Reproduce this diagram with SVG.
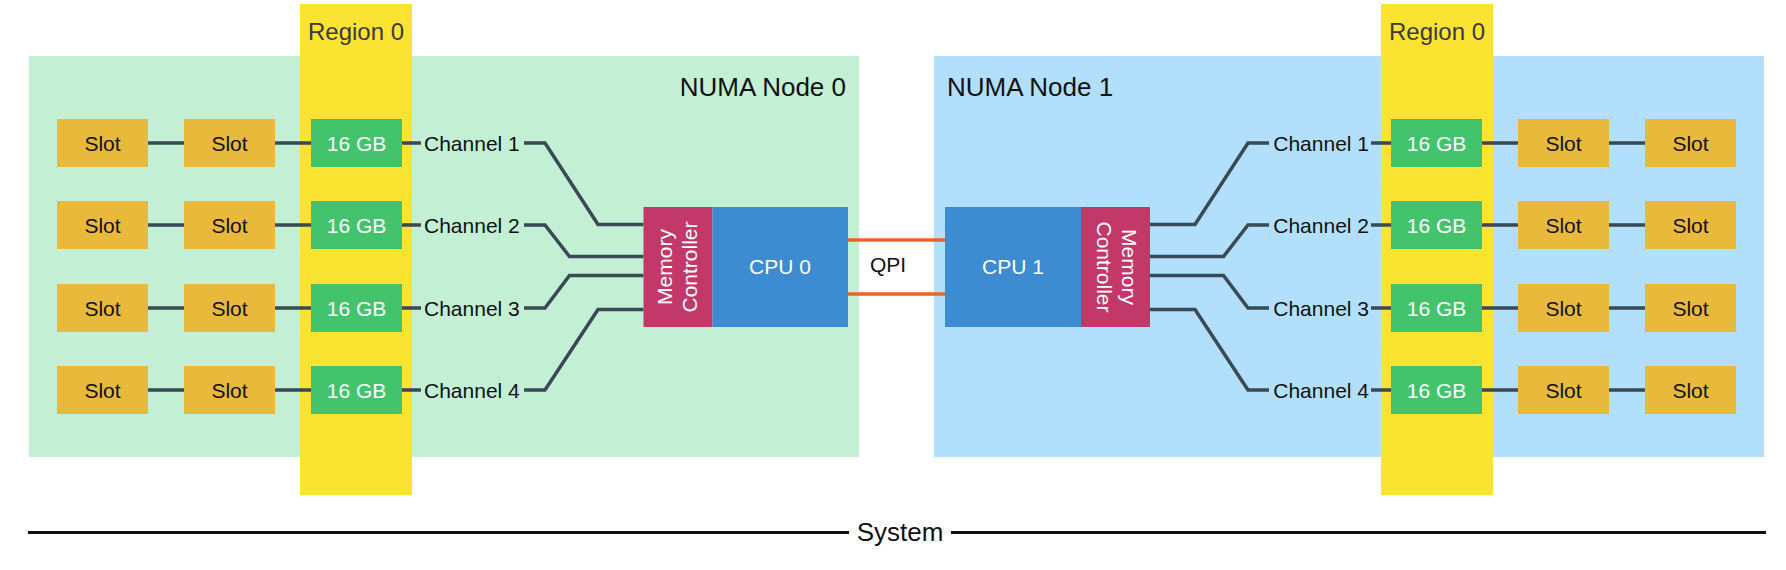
<svg xmlns="http://www.w3.org/2000/svg" width="1786" height="570" viewBox="0 0 1786 570">
<style>
.t{font-family:"Liberation Sans",Arial,Helvetica,sans-serif;font-size:21px;fill:#111}
.w{fill:#fff}
.mid{text-anchor:middle}
.end{text-anchor:end}
.slot{fill:#e8b93b}
.gb{fill:#43c46c}
.mc{fill:#c23868}
.cpu{fill:#3d8bd0}
.c{fill:none;stroke:#3a4a54;stroke-width:3.5}
.q{fill:none;stroke:#e8642c;stroke-width:3.5}
</style>
<rect width="1786" height="570" fill="#fff"/>
<g id="numa0"><rect x="29" y="56" width="830" height="401" fill="#c3efd4"/><text class="t end" x="846" y="96" style="font-size:26px">NUMA Node 0</text></g>
<g id="numa1"><rect x="934" y="56" width="830" height="401" fill="#b1dffc"/><text class="t" x="947" y="96" style="font-size:26px">NUMA Node 1</text></g>
<g id="region0-left"><rect x="300" y="4" width="112" height="491" fill="#fbe332"/><text class="t mid" x="356" y="40" style="font-size:24px;fill:#3a3a3a">Region 0</text></g>
<g id="region0-right"><rect x="1381" y="4" width="112" height="491" fill="#fbe332"/><text class="t mid" x="1437" y="40" style="font-size:24px;fill:#3a3a3a">Region 0</text></g>
<g id="connectors">
<path class="c" d="M148 143H184M275 143H311M402 143H421M148 225H184M275 225H311M402 225H421M148 308H184M275 308H311M402 308H421M148 390H184M275 390H311M402 390H421"/>
<path class="c" d="M524 143H545L598 224.5H643.5M524 225H545L569.5 256.5H643.5M524 308H545L569.5 275.5H643.5M524 390H545L598 309.5H643.5"/>
<path class="c" d="M1645 143H1609M1518 143H1482M1391 143H1371M1645 225H1609M1518 225H1482M1391 225H1371M1645 308H1609M1518 308H1482M1391 308H1371M1645 390H1609M1518 390H1482M1391 390H1371"/>
<path class="c" d="M1269 143H1248L1195 224.5H1149.5M1269 225H1248L1223.5 256.5H1149.5M1269 308H1248L1223.5 275.5H1149.5M1269 390H1248L1195 309.5H1149.5"/>
<path class="q" d="M848 240H945M848 294H945"/>
<text class="t" x="870" y="272">QPI</text>
</g>
<g id="left-slots">
<g id="l-s1-1"><rect class="slot" x="57" y="119" width="91" height="48"/><text class="t mid" x="102.5" y="150.5">Slot</text></g>
<g id="l-s2-1"><rect class="slot" x="184" y="119" width="91" height="48"/><text class="t mid" x="229.5" y="150.5">Slot</text></g>
<g id="l-gb-1"><rect class="gb" x="311" y="119" width="91" height="48"/><text class="t mid w" x="356.5" y="150.5">16 GB</text></g>
<g id="l-ch-1"><text class="t" x="424" y="150.5">Channel 1</text></g>
<g id="l-s1-2"><rect class="slot" x="57" y="201" width="91" height="48"/><text class="t mid" x="102.5" y="232.5">Slot</text></g>
<g id="l-s2-2"><rect class="slot" x="184" y="201" width="91" height="48"/><text class="t mid" x="229.5" y="232.5">Slot</text></g>
<g id="l-gb-2"><rect class="gb" x="311" y="201" width="91" height="48"/><text class="t mid w" x="356.5" y="232.5">16 GB</text></g>
<g id="l-ch-2"><text class="t" x="424" y="232.5">Channel 2</text></g>
<g id="l-s1-3"><rect class="slot" x="57" y="284" width="91" height="48"/><text class="t mid" x="102.5" y="315.5">Slot</text></g>
<g id="l-s2-3"><rect class="slot" x="184" y="284" width="91" height="48"/><text class="t mid" x="229.5" y="315.5">Slot</text></g>
<g id="l-gb-3"><rect class="gb" x="311" y="284" width="91" height="48"/><text class="t mid w" x="356.5" y="315.5">16 GB</text></g>
<g id="l-ch-3"><text class="t" x="424" y="315.5">Channel 3</text></g>
<g id="l-s1-4"><rect class="slot" x="57" y="366" width="91" height="48"/><text class="t mid" x="102.5" y="397.5">Slot</text></g>
<g id="l-s2-4"><rect class="slot" x="184" y="366" width="91" height="48"/><text class="t mid" x="229.5" y="397.5">Slot</text></g>
<g id="l-gb-4"><rect class="gb" x="311" y="366" width="91" height="48"/><text class="t mid w" x="356.5" y="397.5">16 GB</text></g>
<g id="l-ch-4"><text class="t" x="424" y="397.5">Channel 4</text></g>
</g>
<g id="right-slots">
<g id="r-s1-1"><rect class="slot" x="1645" y="119" width="91" height="48"/><text class="t mid" x="1690.5" y="150.5">Slot</text></g>
<g id="r-s2-1"><rect class="slot" x="1518" y="119" width="91" height="48"/><text class="t mid" x="1563.5" y="150.5">Slot</text></g>
<g id="r-gb-1"><rect class="gb" x="1391" y="119" width="91" height="48"/><text class="t mid w" x="1436.5" y="150.5">16 GB</text></g>
<g id="r-ch-1"><text class="t end" x="1369" y="150.5">Channel 1</text></g>
<g id="r-s1-2"><rect class="slot" x="1645" y="201" width="91" height="48"/><text class="t mid" x="1690.5" y="232.5">Slot</text></g>
<g id="r-s2-2"><rect class="slot" x="1518" y="201" width="91" height="48"/><text class="t mid" x="1563.5" y="232.5">Slot</text></g>
<g id="r-gb-2"><rect class="gb" x="1391" y="201" width="91" height="48"/><text class="t mid w" x="1436.5" y="232.5">16 GB</text></g>
<g id="r-ch-2"><text class="t end" x="1369" y="232.5">Channel 2</text></g>
<g id="r-s1-3"><rect class="slot" x="1645" y="284" width="91" height="48"/><text class="t mid" x="1690.5" y="315.5">Slot</text></g>
<g id="r-s2-3"><rect class="slot" x="1518" y="284" width="91" height="48"/><text class="t mid" x="1563.5" y="315.5">Slot</text></g>
<g id="r-gb-3"><rect class="gb" x="1391" y="284" width="91" height="48"/><text class="t mid w" x="1436.5" y="315.5">16 GB</text></g>
<g id="r-ch-3"><text class="t end" x="1369" y="315.5">Channel 3</text></g>
<g id="r-s1-4"><rect class="slot" x="1645" y="366" width="91" height="48"/><text class="t mid" x="1690.5" y="397.5">Slot</text></g>
<g id="r-s2-4"><rect class="slot" x="1518" y="366" width="91" height="48"/><text class="t mid" x="1563.5" y="397.5">Slot</text></g>
<g id="r-gb-4"><rect class="gb" x="1391" y="366" width="91" height="48"/><text class="t mid w" x="1436.5" y="397.5">16 GB</text></g>
<g id="r-ch-4"><text class="t end" x="1369" y="397.5">Channel 4</text></g>
</g>
<g id="memctrl0"><rect class="mc" x="643.5" y="207" width="69" height="120"/><g transform="translate(678,267) rotate(-90)"><text class="t mid w" x="0" y="-6">Memory</text><text class="t mid w" x="0" y="19">Controller</text></g></g>
<g id="cpu0"><rect class="cpu" x="712.5" y="207" width="135.5" height="120"/><text class="t mid w" x="780" y="274">CPU 0</text></g>
<g id="cpu1"><rect class="cpu" x="945" y="207" width="136" height="120"/><text class="t mid w" x="1013" y="274">CPU 1</text></g>
<g id="memctrl1"><rect class="mc" x="1081" y="207" width="69" height="120"/><g transform="translate(1115.5,267) rotate(90)"><text class="t mid w" x="0" y="-6">Memory</text><text class="t mid w" x="0" y="19">Controller</text></g></g>
<g id="system">
<path d="M28 532.5H849M951 532.5H1766" stroke="#111" stroke-width="3"/>
<text class="t mid" x="900" y="541" style="font-size:26px">System</text>
</g>
</svg>
